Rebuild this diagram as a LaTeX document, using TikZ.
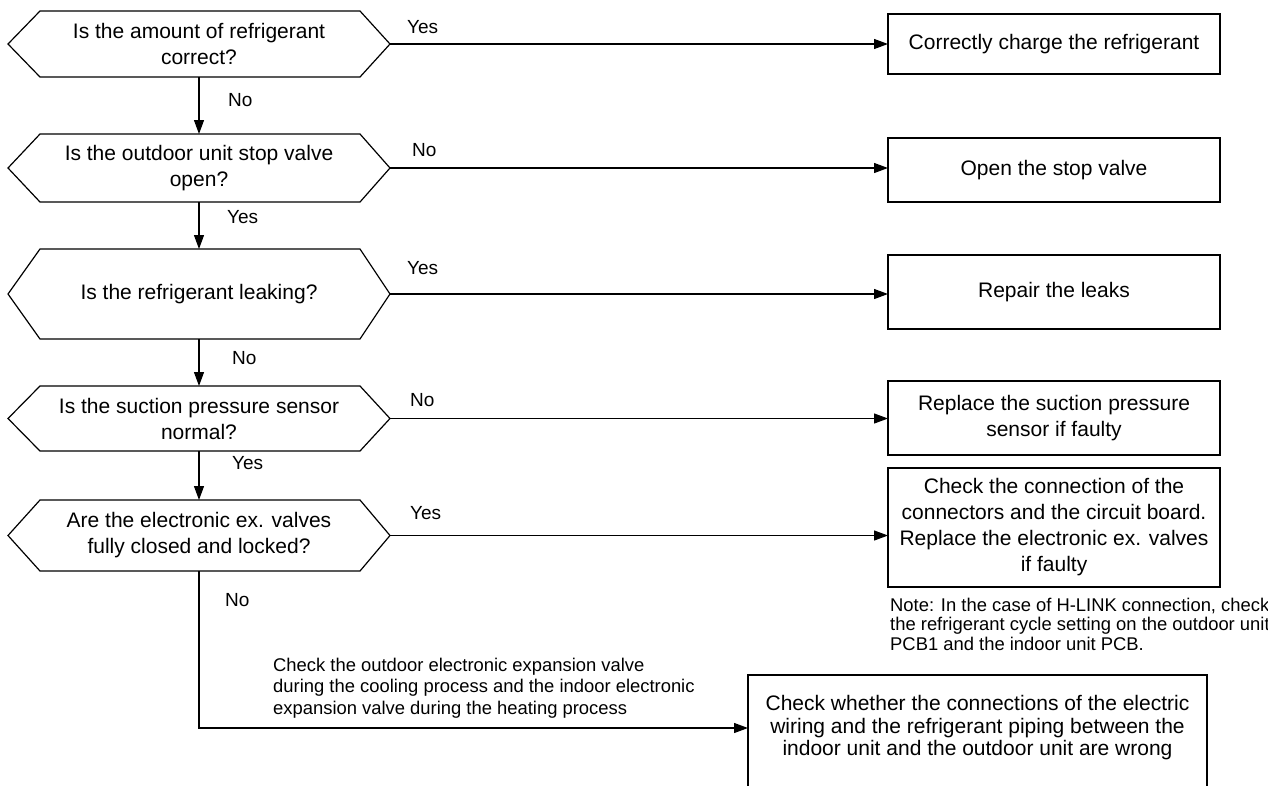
\documentclass[tikz,border=0pt]{standalone}
\usepackage{fontspec}
\setmainfont{Liberation Sans}
\usetikzlibrary{arrows.meta}
\begin{document}
\begin{tikzpicture}[x=1pt,y=-1pt,
  q/.style={minimum width=382pt, inner sep=0pt, outer sep=0pt, align=center,
            font=\fontsize{21}{26}\selectfont},
  act/.style={draw, line width=1.2pt, minimum width=332pt, inner sep=0pt, outer sep=0pt,
              align=center, font=\fontsize{21}{26}\selectfont},
  lbl/.style={inner sep=0pt, font=\fontsize{19}{22}\selectfont},
  remark/.style={inner sep=0pt, align=left, font=\fontsize{18.4}{19.5}\selectfont},
  link/.style={line width=1.2pt, line join=miter},
  flow/.style={link, -{Triangle[length=14pt,width=10pt]}}]
\useasboundingbox (0,0) rectangle (1268,785);
\clip (0,0) rectangle (1268,785);

% decision nodes
\node[q, minimum height=66pt] (q1) at (199,44)    {Is the amount of refrigerant\\correct?};
\node[q, minimum height=68pt] (q2) at (199,168)   {Is the outdoor unit stop valve\\open?};
\node[q, minimum height=90pt] (q3) at (199,294)   {Is the refrigerant leaking?};
\node[q, minimum height=65pt] (q4) at (199,418.5) {Is the suction pressure sensor\\normal?};
\node[q, minimum height=71pt] (q5) at (199,535.5) {Are the electronic ex. valves\\fully closed and locked?};
\foreach \n in {q1,q2,q3,q4,q5}
  \draw[link] (\n.west) -- ([xshift=32pt]\n.north west) -- ([xshift=-30pt]\n.north east)
    -- (\n.east) -- ([xshift=-30pt]\n.south east) -- ([xshift=32pt]\n.south west) -- cycle;

% action boxes
\node[act, minimum height=60pt]  (a1) at (1054,44)    {Correctly charge the refrigerant};
\node[act, minimum height=64pt]  (a2) at (1054,170)   {Open the stop valve};
\node[act, minimum height=74pt]  (a3) at (1054,292)   {Repair the leaks};
\node[act, minimum height=74pt]  (a4) at (1054,418)   {Replace the suction pressure\\sensor if faulty};
\node[act, minimum height=119pt] (a5) at (1054,527.5) {Check the connection of the\\connectors and the circuit board.\\Replace the electronic ex. valves\\if faulty};
% the last box runs on below the lower edge
\node[q, minimum width=459pt, minimum height=106pt, font=\fontsize{21}{22.5}\selectfont] (a6) at (977.5,728)
  {Check whether the connections of the electric\\wiring and the refrigerant piping between the\\indoor unit and the outdoor unit are wrong};
\draw[link] ([yshift=-40pt]a6.south west) -- (a6.north west) -- (a6.north east) -- ([yshift=-40pt]a6.south east);

% connectors
\draw[flow] (q1.south) -- (q2.north);
\draw[flow] (q2.south) -- (q3.north);
\draw[flow] (q3.south) -- (q4.north);
\draw[flow] (q4.south) -- (q5.north);
\draw[flow] (q1.east) -- (a1.west |- q1.east);
\draw[flow] (q2.east) -- (a2.west |- q2.east);
\draw[flow] (q3.east) -- (a3.west |- q3.east);
\draw[flow] (q4.east) -- (a4.west |- q4.east);
\draw[flow] (q5.east) -- (a5.west |- q5.east);
\draw[flow] (q5.south) |- (a6.west);

% branch labels
\node[lbl, anchor=west] (l1r) at (407,27)  {Yes};
\node[lbl, anchor=west] (l1d) at (228,100) {No};
\node[lbl, anchor=west] (l2r) at (412,150) {No};
\node[lbl, anchor=west] (l2d) at (227,217) {Yes};
\node[lbl, anchor=west] (l3r) at (407,268) {Yes};
\node[lbl, anchor=west] (l3d) at (232,358) {No};
\node[lbl, anchor=west] (l4r) at (410,400) {No};
\node[lbl, anchor=west] (l4d) at (232,463) {Yes};
\node[lbl, anchor=west] (l5r) at (410,513) {Yes};
\node[lbl, anchor=west] (l5d) at (225,600) {No};

% remarks
\node[remark, anchor=west] (n1) at (890,624)
  {Note: In the case of H-LINK connection, check\\the refrigerant cycle setting on the outdoor unit\\PCB1 and the indoor unit PCB.};
\node[remark, anchor=west, font=\fontsize{18.4}{21.5}\selectfont] (n2) at (273,688)
  {Check the outdoor electronic expansion valve\\during the cooling process and the indoor electronic\\expansion valve during the heating process};
\end{tikzpicture}
\end{document}
